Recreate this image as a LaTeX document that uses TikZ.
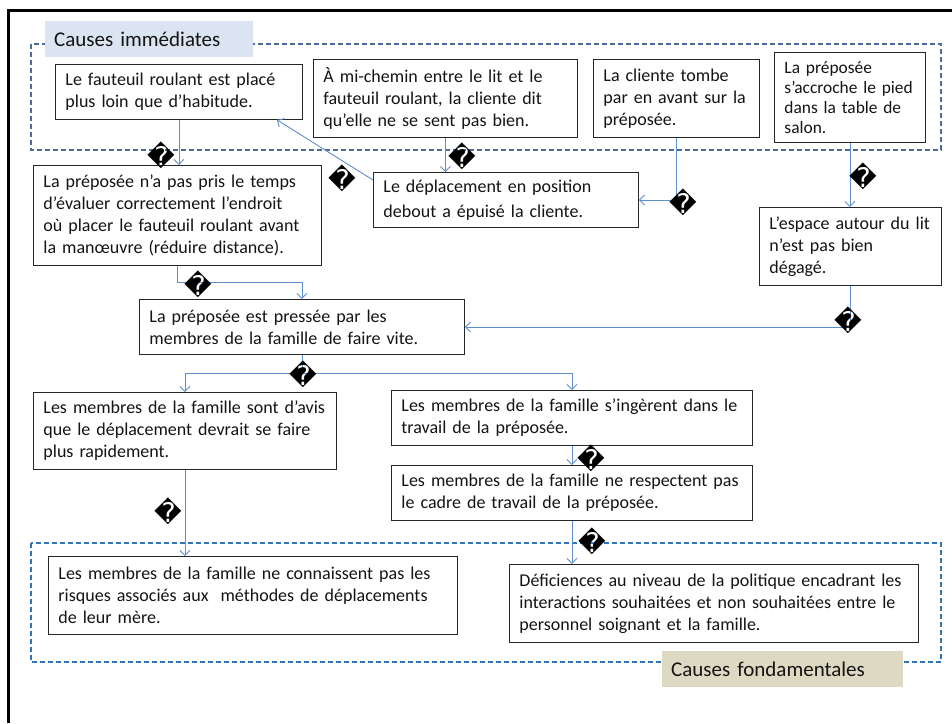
\documentclass[tikz,border=0pt]{standalone}
\usepackage{fontspec}
\setmainfont{Carlito}
\newfontfamily\djv{DejaVu Sans}
\usetikzlibrary{arrows.meta,calc}
\definecolor{connblue}{RGB}{95,142,205}
\definecolor{topdash}{RGB}{74,108,160}
\definecolor{botdash}{RGB}{46,117,190}
\definecolor{toplab}{RGB}{219,229,241}
\definecolor{botlab}{RGB}{221,217,195}
\definecolor{txt}{RGB}{20,20,20}
\tikzset{
  box/.style={draw=black!85, line width=0.9pt, fill=white, anchor=north west,
    inner xsep=10pt, inner ysep=0pt, align=left, text=txt,
    font=\fontsize{18}{22}\selectfont},
  conn/.style={draw=connblue, line width=0.9pt, -{Straight Barb[length=5pt,width=10pt]}},
  qmark/.style={font=\djv\fontsize{27}{27}\selectfont, inner sep=0pt, text=black},
  grp/.style={dash pattern=on 5pt off 3pt, line width=1.5pt},
  lab/.style={anchor=north west, inner xsep=9pt, inner ysep=0pt, align=left, text=txt,
    font=\fontsize{21}{25}\selectfont}
}
\begin{document}
\begin{tikzpicture}[x=1pt,y=-1pt]
\useasboundingbox (0,0) rectangle (952,723);
% frame
\draw[line width=3pt] (8,723) -- (8,10) -- (953,10);
% group boxes
\draw[grp, draw=topdash] (31,44) rectangle (941,150);
\draw[grp, draw=botdash] (31,543) rectangle (941,662);
% labels
\node[lab, fill=toplab, minimum width=208pt, minimum height=36pt, text width=190pt] (lt) at (45,21) {Causes immédiates};
\node[lab, fill=botlab, minimum width=241pt, minimum height=36pt, text width=223pt] (lb) at (662,651) {Causes fondamentales};
% boxes
\node[box, minimum width=247pt, minimum height=55pt, text width=227pt] (a) at (55,64)
  {Le fauteuil roulant est placé\\plus loin que d’habitude.};
\node[box, minimum width=264pt, minimum height=78pt, text width=244pt] (b) at (313,59)
  {À mi-chemin entre le lit et le\\fauteuil roulant, la cliente dit\\qu’elle ne se sent pas bien.};
\node[box, minimum width=166pt, minimum height=78pt, text width=146pt] (c) at (593,59)
  {La cliente tombe\\par en avant sur la\\préposée.};
\node[box, minimum width=151pt, minimum height=90pt, text width=131pt, font=\fontsize{17.4}{20}\selectfont] (d) at (774,52)
  {La préposée\\\mbox{s’accroche le pied}\\dans la table de\\salon.};
\node[box, minimum width=288pt, minimum height=100pt, text width=268pt] (e) at (33,165)
  {La préposée n’a pas pris le temps\\d’évaluer correctement l’endroit\\où placer le fauteuil roulant avant\\la manœuvre (réduire distance).};
\node[box, minimum width=265pt, minimum height=55pt, text width=245pt, font=\fontsize{18}{24.5}\selectfont] (f) at (373,172)
  {Le déplacement en position\\debout a épuisé la cliente.};
\node[box, minimum width=182pt, minimum height=78pt, text width=162pt] (g) at (759,207)
  {\mbox{L’espace autour du lit}\\n’est pas bien\\dégagé.};
\node[box, minimum width=325pt, minimum height=55pt, text width=305pt] (h) at (139,299)
  {La préposée est pressée par les\\membres de la famille de faire vite.};
\node[box, minimum width=303pt, minimum height=77pt, text width=283pt] (i) at (33,392)
  {\mbox{Les membres de la famille sont d’avis}\\que le déplacement devrait se faire\\plus rapidement.};
\node[box, minimum width=361pt, minimum height=55pt, text width=341pt] (j) at (391,390)
  {\mbox{Les membres de la famille s’ingèrent dans le}\\travail de la préposée.};
\node[box, minimum width=361pt, minimum height=55pt, text width=341pt] (k) at (391,465)
  {\mbox{Les membres de la famille ne respectent pas}\\le cadre de travail de la préposée.};
\node[box, minimum width=409pt, minimum height=78pt, text width=389pt] (l) at (48,556)
  {\mbox{Les membres de la famille ne connaissent pas les}\\\mbox{risques associés aux~ méthodes de déplacements}\\de leur mère.};
\node[box, minimum width=409pt, minimum height=78pt, text width=389pt] (m) at (509,564)
  {\mbox{Déficiences au niveau de la politique encadrant les}\\\mbox{interactions souhaitées et non souhaitées entre le}\\personnel soignant et la famille.};
% connectors
\draw[conn] (a.south) -- (a.south |- e.north);
\draw[conn] ([yshift=-8pt]f.north west) -- ([xshift=222pt]a.south west);
\draw[conn] (b.south) -- (b.south |- f.north);
\draw[conn] (c.south) |- (f.east);
\draw[conn] (d.south) -- (d.south |- g.north);
\draw[conn] (g.south) |- (h.east);
\draw[conn] (e.south) -- ++(0,17) -| (h.north);
\draw[conn] (h.south) -- ++(0,19) -| (i.north);
\draw[conn] (h.south) ++(0,19) -| (j.north);
\draw[conn] (i.south) -- (i.south |- l.north);
\draw[conn] (j.south) -- (k.north);
\draw[conn] (k.south) -- (k.south |- m.north);
% question marks
\node[qmark] (q1) at (161,155) {\char"FFFD};
\node[qmark] (q2) at (342,178) {\char"FFFD};
\node[qmark] (q3) at (462,156) {\char"FFFD};
\node[qmark] (q4) at (683,202) {\char"FFFD};
\node[qmark] (q5) at (863,176) {\char"FFFD};
\node[qmark] (q6) at (848,320) {\char"FFFD};
\node[qmark] (q7) at (198,284) {\char"FFFD};
\node[qmark] (q8) at (303,374) {\char"FFFD};
\node[qmark] (q9) at (168,511) {\char"FFFD};
\node[qmark] (q10) at (591,458) {\char"FFFD};
\node[qmark] (q11) at (592,541) {\char"FFFD};
\end{tikzpicture}
\end{document}
